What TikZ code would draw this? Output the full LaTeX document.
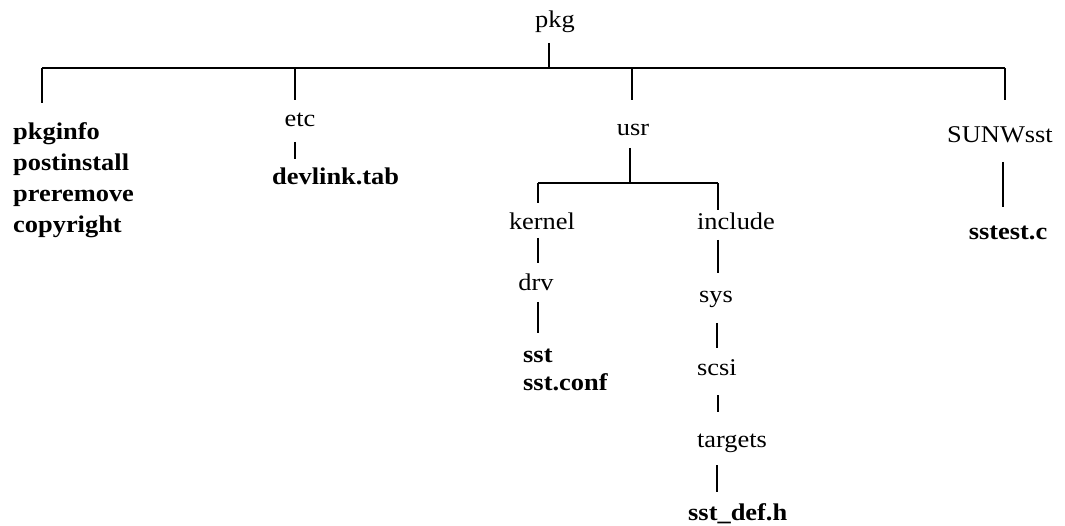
\documentclass[tikz,border=0pt]{standalone}
\usepackage{fontspec}
\setmainfont{Liberation Serif}
\begin{document}
\begin{tikzpicture}[x=1pt,y=1pt,
  dir/.style={inner sep=0pt, anchor=base, xscale=1.1, transform shape,
    font=\fontsize{24}{31}\selectfont},
  file/.style={inner sep=0pt, anchor=base west, xscale=1.1, transform shape, align=left,
    font=\fontsize{24}{31}\selectfont\bfseries},
  link/.style={line width=1.1pt, line cap=butt}]
\useasboundingbox (0,0) rectangle (1065,-526);
% directory nodes
\node[dir] (pkg) at (555,-28) {pkg};
\node[dir] (etc) at (300,-127) {etc};
\node[dir] (usr) at (633,-136) {usr};
\node[dir] (sunw) at (1000,-143) {SUNWsst};
\node[dir] (kernel) at (542,-230) {kernel};
\node[dir] (include) at (736,-230) {include};
\node[dir] (drv) at (536,-291) {drv};
\node[dir] (sys) at (716,-303) {sys};
\node[dir] (scsi) at (717,-375) {scsi};
\node[dir] (targets) at (732,-447) {targets};
% file nodes (base anchor = baseline of last line)
\node[file] (pkgfiles) at (13,-233) {pkginfo\\postinstall\\preremove\\copyright};
\node[file] (devlink) at (272,-185) {devlink.tab};
\node[file, font=\fontsize{24}{28}\selectfont\bfseries] (sstfiles) at (523,-390) {sst\\sst.conf};
\node[file] (sstdef) at (688,-520) {sst\_def.h};
\node[file, anchor=base] (sstest) at (1008,-240) {sstest.c};
% junction coordinates
\coordinate (pkgS) at (549,-43);
\coordinate (pkgJ) at (549,-68);
\coordinate (barL) at (42,-68);
\coordinate (barR) at (1005,-68);
\coordinate (pkgfilesN) at (42,-103);
\coordinate (etcJ) at (295,-68);
\coordinate (etcN) at (295,-100);
\coordinate (etcS) at (295,-142);
\coordinate (devlinkN) at (295,-159);
\coordinate (usrJ) at (632,-68);
\coordinate (usrN) at (632,-100);
\coordinate (sunwN) at (1005,-100);
\coordinate (sunwS) at (1003,-162);
\coordinate (sstestN) at (1003,-207);
\coordinate (usrS) at (630,-148);
\coordinate (usrJ2) at (630,-183);
\coordinate (ubarL) at (538,-183);
\coordinate (ubarR) at (718,-183);
\coordinate (kernelN) at (538,-203);
\coordinate (includeN) at (718,-210);
\coordinate (kernelS) at (538,-238);
\coordinate (drvN) at (538,-263);
\coordinate (drvS) at (538,-302);
\coordinate (sstfilesN) at (538,-333);
\coordinate (includeS) at (718,-240);
\coordinate (sysN) at (718,-273);
\coordinate (sysS) at (717,-323);
\coordinate (scsiN) at (717,-348);
\coordinate (scsiS) at (718,-395);
\coordinate (targetsN) at (718,-412);
\coordinate (targetsS) at (717,-465);
\coordinate (sstdefN) at (717,-492);
% connectors
\draw[link] (pkgS) -- (pkgJ);
\draw[link] (barL) -- (barR);
\draw[link] (barL) -- (pkgfilesN);
\draw[link] (etcJ) -- (etcN);
\draw[link] (usrJ) -- (usrN);
\draw[link] (barR) -- (sunwN);
\draw[link] (etcS) -- (devlinkN);
\draw[link] (sunwS) -- (sstestN);
\draw[link] (usrS) -- (usrJ2);
\draw[link] (ubarL) -- (ubarR);
\draw[link] (ubarL) -- (kernelN);
\draw[link] (ubarR) -- (includeN);
\draw[link] (kernelS) -- (drvN);
\draw[link] (drvS) -- (sstfilesN);
\draw[link] (includeS) -- (sysN);
\draw[link] (sysS) -- (scsiN);
\draw[link] (scsiS) -- (targetsN);
\draw[link] (targetsS) -- (sstdefN);
\end{tikzpicture}
\end{document}
